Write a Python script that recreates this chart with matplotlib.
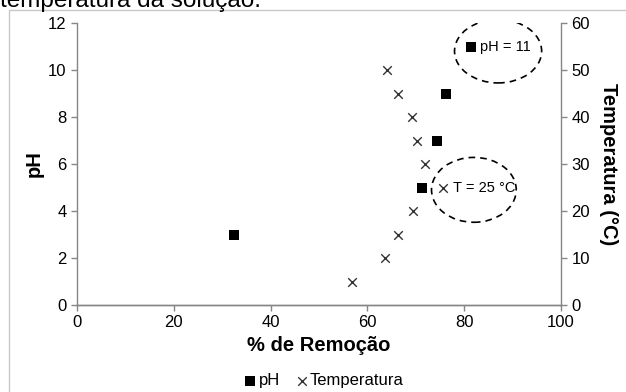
import matplotlib.pyplot as plt
from matplotlib.patches import Ellipse, Rectangle

plt.rcParams["font.family"] = ["Liberation Sans", "DejaVu Sans"]

# pH series
ph_values = [3, 5, 7, 9, 11]
ph_removal = [32.4, 71.2, 74.4, 76.2, 81.5]

# temperature series (right axis)
temp_values = [5, 10, 15, 20, 25, 30, 35, 40, 45, 50]
temp_removal = [56.9, 63.6, 66.4, 69.5, 75.7, 71.9, 70.2, 69.3, 66.4, 64.1]

x_ticks = [0, 20, 40, 60, 80, 100]
ph_ticks = [0, 2, 4, 6, 8, 10, 12]
temp_ticks = [0, 10, 20, 30, 40, 50, 60]

axis_gray = "#868686"

fig = plt.figure(figsize=(6.26, 3.92), dpi=100)
fig.patches.append(Rectangle((9 / 626, -0.1), 1.2, 1 - 10 / 392 + 0.1,
                             transform=fig.transFigure, fill=False,
                             edgecolor="#c8c8c8", linewidth=1.0))
fig.text(0.0, 1 - 7 / 392, "temperatura da solução.", fontsize=17.5,
         ha="left", va="baseline", color="black")

ax = fig.add_axes([77 / 626, 1 - 305 / 392, (561 - 77) / 626, (305 - 23) / 392])
ax2 = ax.twinx()

ax.scatter(ph_removal, ph_values, marker="s", s=44, color="black",
           linewidths=0, zorder=3, label="pH")
ax2.scatter(temp_removal, temp_values, marker="x", s=38, color="#333333",
            linewidths=1.0, zorder=3, label="Temperatura")

ax.set_xlim(0, 100)
ax.set_ylim(0, 12)
ax2.set_ylim(0, 60)
ax.set_xticks(x_ticks)
ax.set_yticks(ph_ticks)
ax2.set_yticks(temp_ticks)

for a in (ax, ax2):
    a.spines["top"].set_visible(False)
    for side in ("left", "right", "bottom"):
        a.spines[side].set_color(axis_gray)
        a.spines[side].set_linewidth(1.0)
    a.tick_params(axis="both", colors=axis_gray, labelcolor="black",
                  labelsize=12, length=4, width=1, direction="out")
ax.spines["right"].set_visible(False)
ax2.spines["left"].set_visible(False)

ax.set_xlabel("% de Remoção", fontsize=14.5, fontweight="bold", labelpad=4)
ax.set_ylabel("pH", fontsize=14.5, fontweight="bold", labelpad=3)
ax2.set_ylabel("Temperatura (°C)", fontsize=14.5, fontweight="bold",
               rotation=-90, labelpad=20)

# callouts
ax.text(83.3, 11, "pH = 11", fontsize=10.5, ha="left", va="center")
ax.add_patch(Ellipse((87.0, 10.8), 18.0, 2.7, fill=False, linestyle=(0, (4, 3)),
                     edgecolor="black", linewidth=1.2, zorder=4))
ax2.text(77.6, 25, "T = 25 °C", fontsize=10.5, ha="left", va="center")
ax2.add_patch(Ellipse((82.0, 24.5), 17.5, 13.8, fill=False, linestyle=(0, (4, 3)),
                      edgecolor="black", linewidth=1.2, zorder=4))

h1, l1 = ax.get_legend_handles_labels()
h2, l2 = ax2.get_legend_handles_labels()
fig.legend(h1 + h2, l1 + l2, loc="center", bbox_to_anchor=(323 / 626, 1 - 381 / 392),
           ncol=2, frameon=False, fontsize=12, handletextpad=0.0,
           columnspacing=0.8, handlelength=1.0)

fig.savefig("out.png", dpi=100)
